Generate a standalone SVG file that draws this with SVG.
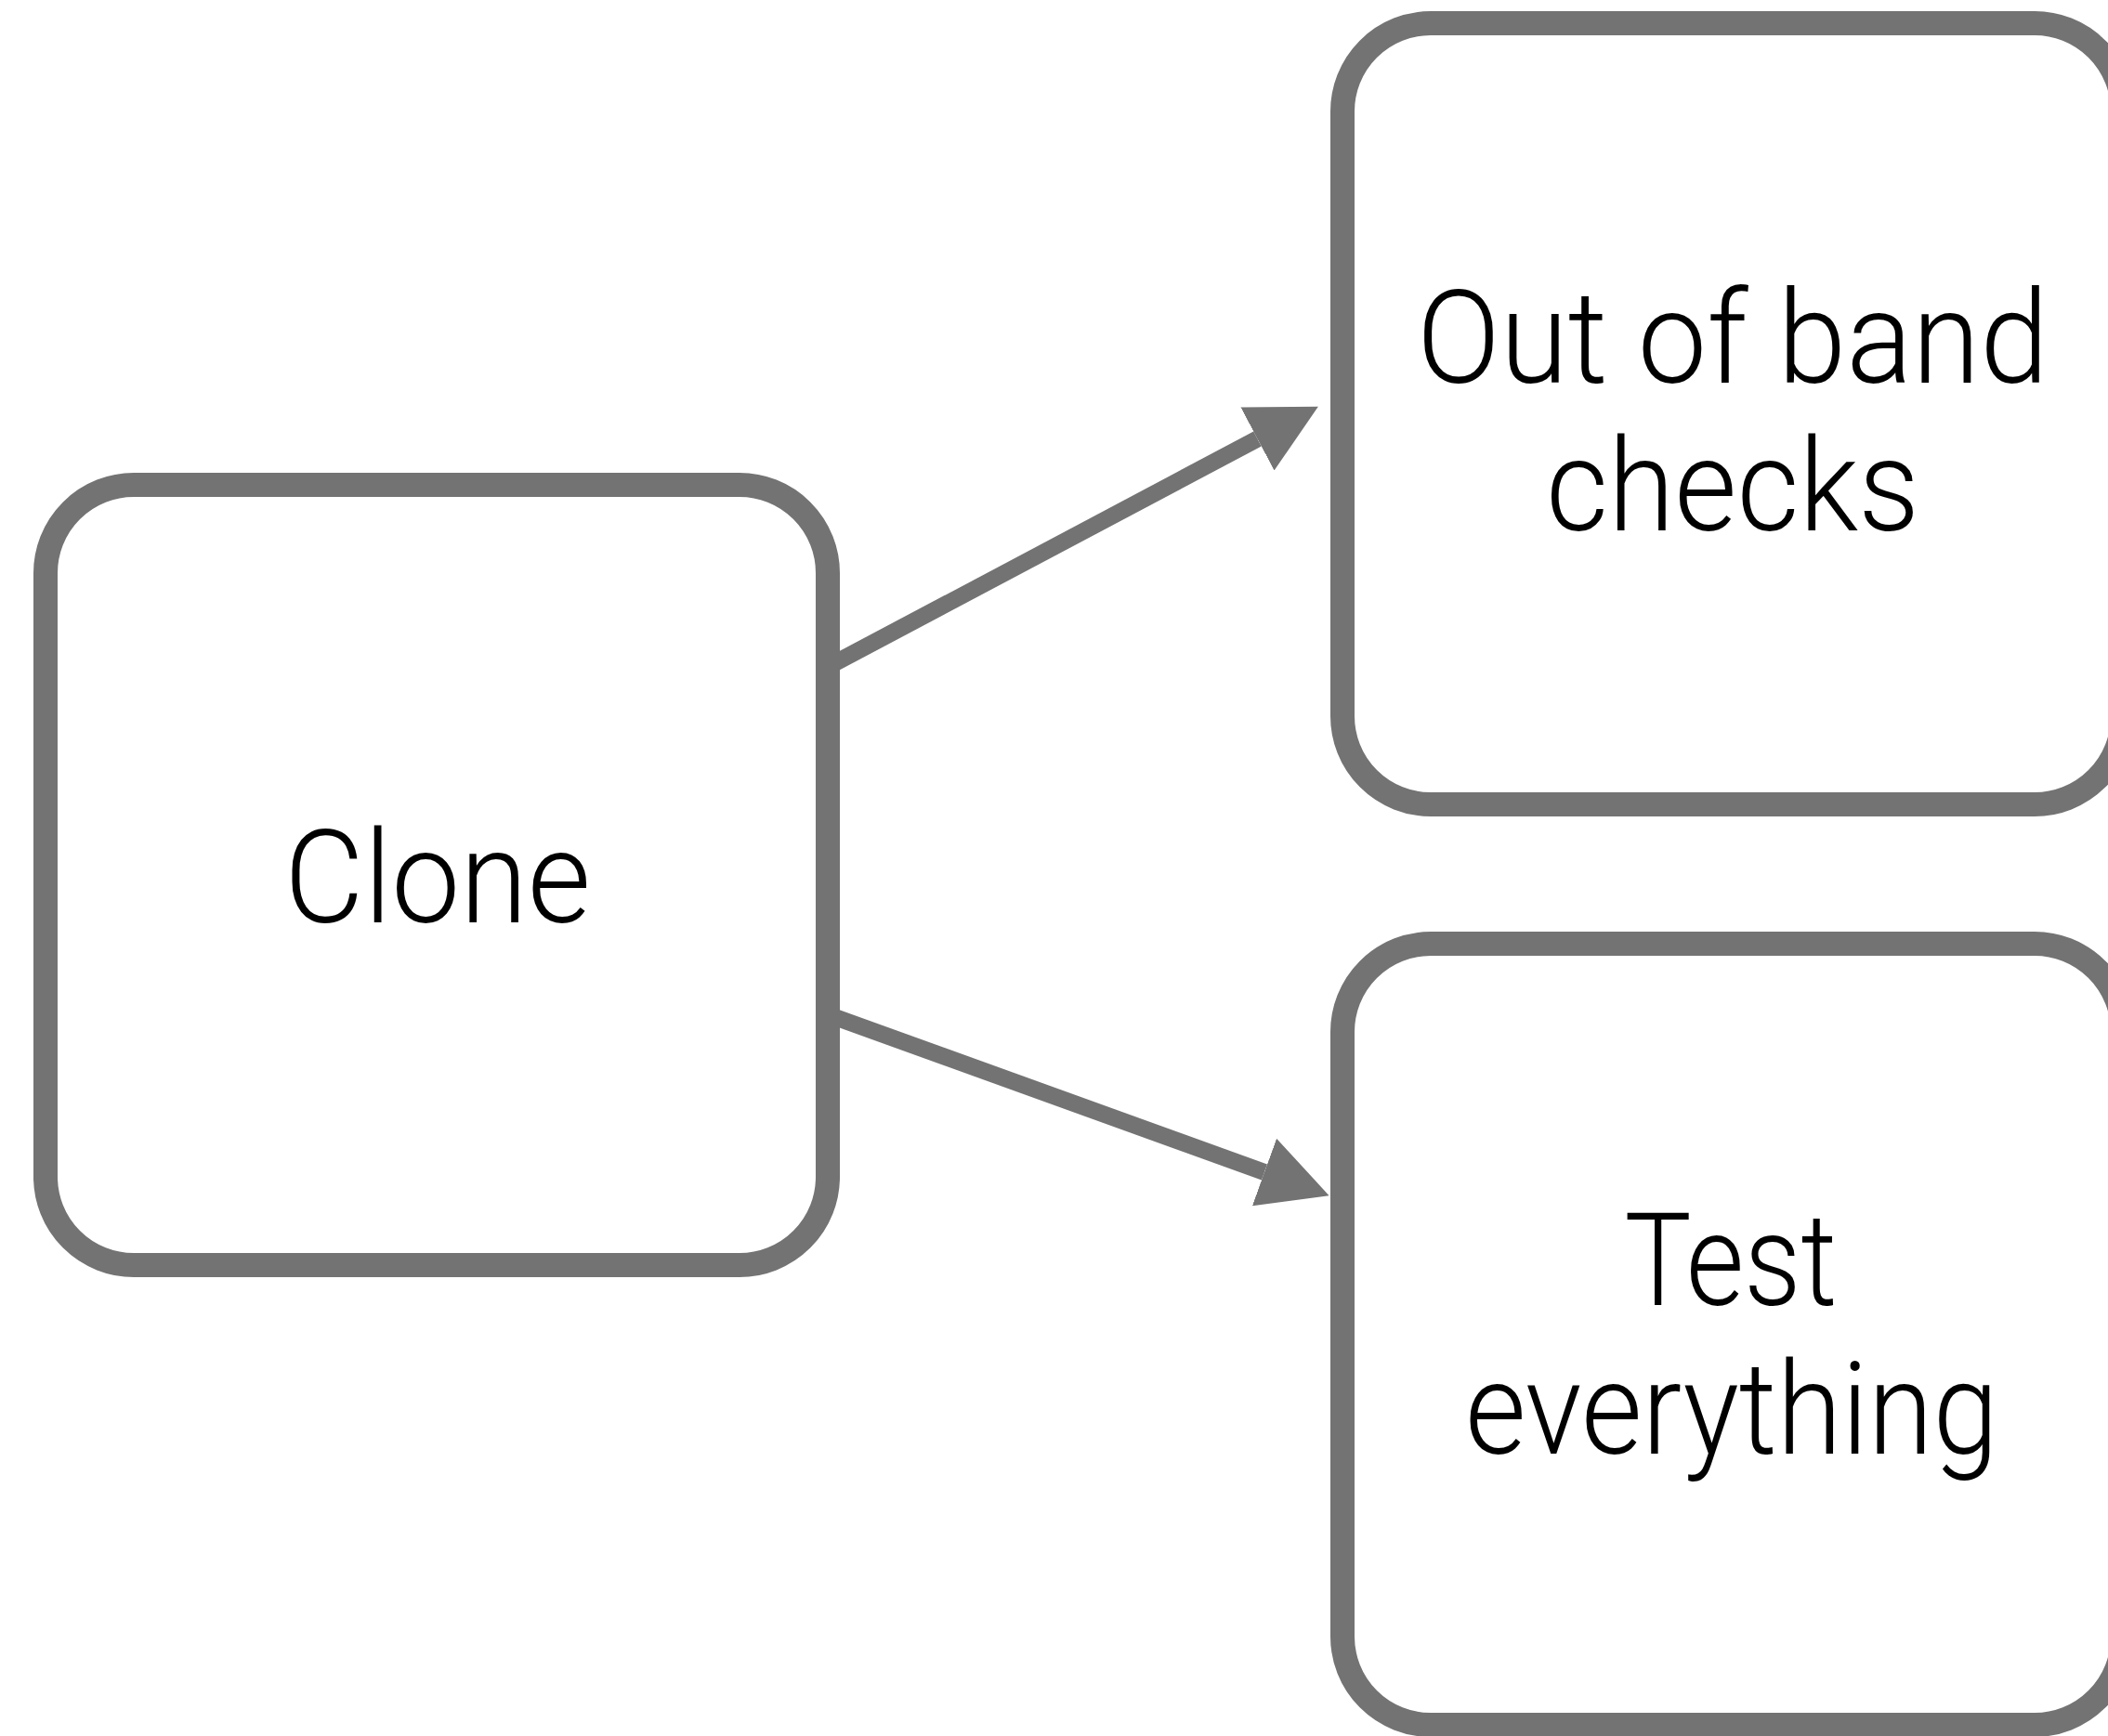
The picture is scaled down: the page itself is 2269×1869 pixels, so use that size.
<svg xmlns="http://www.w3.org/2000/svg" width="2269" height="1869" viewBox="0 0 2269 1869">
  <style>
    .box { fill: #ffffff; stroke: #737373; stroke-width: 26; }
    .edge { fill: none; stroke: #737373; stroke-width: 18; }
    .label { font-family: Roboto, "Liberation Sans", sans-serif; font-weight: 300; font-size: 140px; fill: #000000; text-anchor: middle; }
  </style>
  <defs>
    <marker id="arrow" markerUnits="userSpaceOnUse" viewBox="0 0 74 77" refX="0" refY="38.5" markerWidth="74" markerHeight="77" orient="auto">
      <path d="M0,0 L74,38.5 L0,77 Z" fill="#737373"/>
    </marker>
  </defs>
  <rect width="2269" height="1869" fill="#ffffff"/>
  <g id="connectors">
    <line class="edge" x1="895" y1="715.8" x2="1353.5" y2="472.5" marker-end="url(#arrow)"/>
    <line class="edge" x1="895" y1="1093.7" x2="1361" y2="1262" marker-end="url(#arrow)"/>
  </g>
  <g id="node-clone">
    <rect class="box" x="49" y="522" width="842" height="840" rx="95" ry="95"/>
    <text class="label" x="471" y="993" textLength="330" lengthAdjust="spacingAndGlyphs">Clone</text>
  </g>
  <g id="node-out-of-band">
    <rect class="box" x="1445" y="25" width="840" height="841" rx="95" ry="95"/>
    <text class="label" x="1865" y="412" textLength="680" lengthAdjust="spacingAndGlyphs">Out of band</text>
    <text class="label" x="1865" y="571" textLength="402" lengthAdjust="spacingAndGlyphs">checks</text>
  </g>
  <g id="node-test-everything">
    <rect class="box" x="1445" y="1016" width="840" height="841" rx="95" ry="95"/>
    <text class="label" x="1863" y="1405" textLength="229" lengthAdjust="spacingAndGlyphs">Test</text>
    <text class="label" x="1864" y="1565" textLength="574" lengthAdjust="spacingAndGlyphs">everything</text>
  </g>
</svg>
